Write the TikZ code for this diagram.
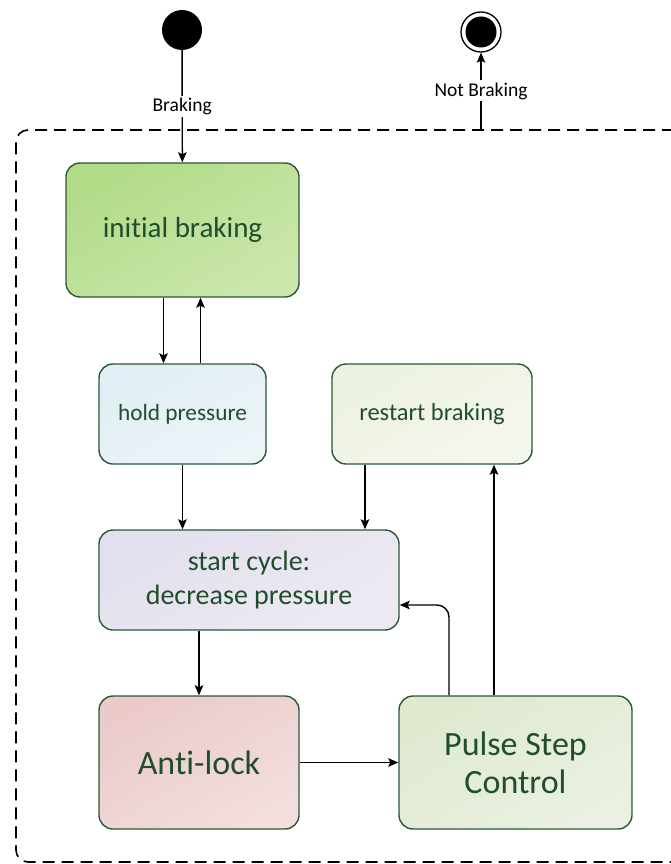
\documentclass[tikz,border=0pt]{standalone}
\usepackage{fontspec}
\setmainfont{Carlito}[Ligatures=NoCommon]
\usetikzlibrary{arrows.meta,calc}

\definecolor{textgreen}{HTML}{1F4E2C}
\definecolor{edgegreen}{HTML}{2B5738}
\definecolor{initA}{HTML}{B2DB88}
\definecolor{initB}{HTML}{CBE7AC}
\definecolor{holdA}{HTML}{E1EEF5}
\definecolor{holdB}{HTML}{ECF4F8}
\definecolor{restartA}{HTML}{ECF2E1}
\definecolor{restartB}{HTML}{F4F7EE}
\definecolor{cycleA}{HTML}{E3E0EE}
\definecolor{cycleB}{HTML}{EDEAF3}
\definecolor{antiA}{HTML}{EBCACA}
\definecolor{antiB}{HTML}{F3DEDE}
\definecolor{pulseA}{HTML}{DFE9CF}
\definecolor{pulseB}{HTML}{EAF1E2}

\tikzset{
	state/.style 2 args={draw=edgegreen, line width=1.4pt, rounded corners=14pt,
		top color=#1, bottom color=#2, shading angle=30,
		text=textgreen, align=center, inner sep=0pt},
	trans/.style={-{Stealth[length=10pt,width=8.5pt,inset=2pt]}, line width=1.4pt},
	guard/.style={fill=white, inner sep=2pt, font=\fontsize{19.5}{22}\selectfont},
	initstate/.style={circle, fill=black, minimum size=40pt, inner sep=0pt},
	endstate/.style={circle, draw, line width=1.3pt, minimum size=40pt, inner sep=0pt,
		path picture={\fill (path picture bounding box.center) circle (15.5pt);}},
}

\begin{document}
\begin{tikzpicture}[x=1pt, y=-1pt]

	\useasboundingbox (0,0) rectangle (671,864);

	\node[draw, dashed, dash pattern=on 12pt off 7pt, line width=1.6pt, rounded corners=12pt,
		minimum width=670pt, minimum height=732pt] (system) at (351,496) {};

	\node[initstate] (start) at (182,30) {};
	\node[endstate] (final) at (481,32) {};

	\node[state={initA}{initB}, minimum width=233pt, minimum height=134pt,
		font=\fontsize{29}{34}\selectfont] (init) at (182.5,230) {initial braking};

	\node[state={holdA}{holdB}, minimum width=167pt, minimum height=100pt,
		font=\fontsize{23.3}{28}\selectfont] (hold) at (182.5,414) {hold pressure};
	\node[state={restartA}{restartB}, minimum width=200pt, minimum height=100pt,
		font=\fontsize{24.5}{28}\selectfont] (restart) at (432,414) {restart braking};

	\node[state={cycleA}{cycleB}, minimum width=300pt, minimum height=100pt,
		font=\fontsize{28}{34}\selectfont] (cycle) at (249,580) {start cycle:\\decrease pressure};

	\node[state={antiA}{antiB}, minimum width=200pt, minimum height=133pt,
		font=\fontsize{34}{38}\selectfont] (anti) at (199,762.5) {Anti-lock};
	\node[state={pulseA}{pulseB}, minimum width=233pt, minimum height=133pt,
		font=\fontsize{34}{38}\selectfont] (pulse) at (515.5,762.5) {Pulse Step\\Control};

	\draw[trans] (start) -- node[guard] {Braking} (init);
	\draw[trans] (final.south |- system.north) -- node[guard] {Not Braking} (final);

	\draw[trans] ([xshift=-19pt]init.south) -- ([xshift=-19pt]hold.north);
	\draw[trans] ([xshift=18pt]hold.north) -- ([xshift=18pt]init.south);

	\draw[trans] (hold.south) -- (hold.south |- cycle.north);
	\draw[trans] ([xshift=-67pt]restart.south) -- ([xshift=-67pt]restart.south |- cycle.north);

	\draw[trans] (anti.north |- cycle.south) -- (anti.north);
	\draw[trans] (anti) -- (pulse);

	\draw[trans, rounded corners=12pt] ([xshift=-66.5pt]pulse.north) |- ($(cycle.east)+(0,25)$);
	\draw[trans] ([xshift=-21.5pt]pulse.north) -- ([xshift=-21.5pt]pulse.north |- restart.south);

\end{tikzpicture}
\end{document}
